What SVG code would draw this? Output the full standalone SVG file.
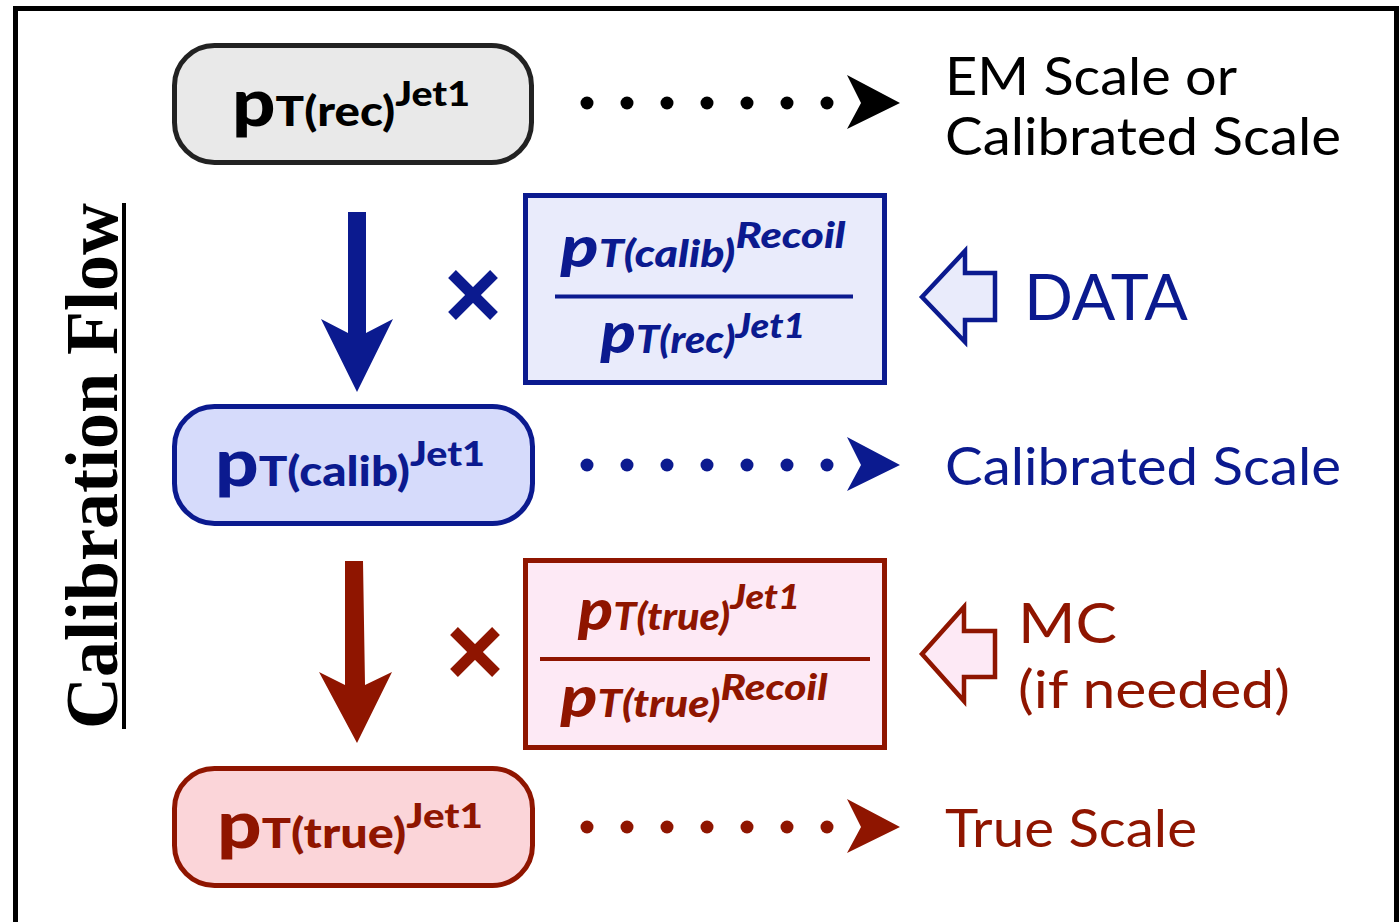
<svg xmlns="http://www.w3.org/2000/svg" width="1399" height="922" viewBox="0 0 1399 922">
<style>
.sans{font-family:Lato,"Open Sans","Liberation Sans",sans-serif}
.nt{font-family:Lato,"Open Sans","Liberation Sans",sans-serif;font-weight:900}
.ft{font-family:Lato,"Open Sans","Liberation Sans",sans-serif;font-weight:900;font-style:italic}
.lbl{font-family:Lato,"Open Sans","Liberation Sans",sans-serif;font-size:53px}
.blue{fill:#0b1a8f}
.red{fill:#8f1500}
.blk{fill:#000}
</style>
<defs>
<g id="dots">
<circle cx="587" cy="0" r="6.5"/><circle cx="627" cy="0" r="6.5"/><circle cx="667" cy="0" r="6.5"/><circle cx="707" cy="0" r="6.5"/><circle cx="747" cy="0" r="6.5"/><circle cx="787" cy="0" r="6.5"/><circle cx="827" cy="0" r="6.5"/>
<polygon points="847,-28 900,0 847,26 861,0"/>
</g>
</defs>
<rect x="0" y="0" width="1399" height="922" fill="#fff"/>
<rect x="15.5" y="8.5" width="1381" height="940" fill="none" stroke="#000" stroke-width="5"/>

<g id="title">
<text transform="translate(117,466) rotate(-90)" text-anchor="middle" font-family="'Liberation Serif',serif" font-weight="bold" font-size="74" textLength="526" lengthAdjust="spacingAndGlyphs">Calibration Flow</text>
<line x1="124" y1="203" x2="124" y2="729" stroke="#000" stroke-width="4"/>
</g>

<g id="node-rec">
<rect x="174.5" y="45.5" width="357" height="117" rx="40" fill="#e9e9e9" stroke="#222" stroke-width="5"/>
<text x="351" y="126" text-anchor="middle" class="nt blk" textLength="238" lengthAdjust="spacingAndGlyphs"><tspan font-size="66">p</tspan><tspan font-size="41">T(rec)</tspan><tspan font-size="34" dy="-20">Jet1</tspan></text>
</g>

<g id="node-calib">
<rect x="174.5" y="406.5" width="358" height="117" rx="40" fill="#d6dbfb" stroke="#0b1a8f" stroke-width="5"/>
<text x="350" y="486" text-anchor="middle" class="nt blue" textLength="270" lengthAdjust="spacingAndGlyphs"><tspan font-size="66">p</tspan><tspan font-size="41">T(calib)</tspan><tspan font-size="34" dy="-20">Jet1</tspan></text>
</g>

<g id="node-true">
<rect x="174.5" y="768.5" width="358" height="117" rx="40" fill="#fbd5d9" stroke="#8f1500" stroke-width="5"/>
<text x="350" y="848" text-anchor="middle" class="nt red" textLength="266" lengthAdjust="spacingAndGlyphs"><tspan font-size="66">p</tspan><tspan font-size="41">T(true)</tspan><tspan font-size="34" dy="-20">Jet1</tspan></text>
</g>

<g id="factor-data">
<rect x="525.5" y="195.5" width="359" height="187" fill="#e9ebfb" stroke="#0b1a8f" stroke-width="5"/>
<line x1="555" y1="296.5" x2="853" y2="296.5" stroke="#0b1a8f" stroke-width="4"/>
<text x="703" y="267" text-anchor="middle" class="ft blue" textLength="285" lengthAdjust="spacingAndGlyphs"><tspan font-size="58">p</tspan><tspan font-size="37">T(calib)</tspan><tspan font-size="36" dy="-19">Recoil</tspan></text>
<text x="703" y="353" text-anchor="middle" class="ft blue" textLength="205" lengthAdjust="spacingAndGlyphs"><tspan font-size="58">p</tspan><tspan font-size="37">T(rec)</tspan><tspan font-size="34" dy="-15">Jet1</tspan></text>
</g>

<g id="factor-mc">
<rect x="525.5" y="560.5" width="359" height="187" fill="#fde9f5" stroke="#8f1500" stroke-width="5"/>
<line x1="540" y1="659" x2="870" y2="659" stroke="#8f1500" stroke-width="4"/>
<text x="689" y="630" text-anchor="middle" class="ft red" textLength="222" lengthAdjust="spacingAndGlyphs"><tspan font-size="58">p</tspan><tspan font-size="37">T(true)</tspan><tspan font-size="34" dy="-21">Jet1</tspan></text>
<text x="694" y="717" text-anchor="middle" class="ft red" textLength="267" lengthAdjust="spacingAndGlyphs"><tspan font-size="58">p</tspan><tspan font-size="37">T(true)</tspan><tspan font-size="36" dy="-17">Recoil</tspan></text>
</g>

<g id="src-data">
<polygon points="922,297 965,251 965,273 995,273 995,320 965,320 965,342" fill="#e9ebfb" stroke="#0b1a8f" stroke-width="4.5" stroke-linejoin="miter"/>
<text x="1024" y="320" class="sans blue" font-size="64" textLength="164" lengthAdjust="spacingAndGlyphs">DATA</text>
</g>

<g id="src-mc">
<polygon points="922,654 964,607 964,631 995,631 995,677 964,677 964,701" fill="#fde9f5" stroke="#8f1500" stroke-width="4.5" stroke-linejoin="miter"/>
<text x="1018" y="643" class="sans red" font-size="57" textLength="99" lengthAdjust="spacingAndGlyphs">MC</text>
<text x="1018" y="708" class="sans red" font-size="53" textLength="272" lengthAdjust="spacingAndGlyphs">(if needed)</text>
</g>

<g id="scale-labels">
<text x="945" y="95" class="lbl blk" textLength="292" lengthAdjust="spacingAndGlyphs">EM Scale or</text>
<text x="945" y="155" class="lbl blk" textLength="396" lengthAdjust="spacingAndGlyphs">Calibrated Scale</text>
<text x="945" y="485" class="lbl blue" textLength="396" lengthAdjust="spacingAndGlyphs">Calibrated Scale</text>
<text x="945" y="847" class="lbl red" textLength="252" lengthAdjust="spacingAndGlyphs">True Scale</text>
</g>

<g id="connectors">
<use href="#dots" transform="translate(0,103)" fill="#000"/>
<use href="#dots" transform="translate(0,465)" fill="#0b1a8f"/>
<use href="#dots" transform="translate(0,827)" fill="#8f1500"/>
<polygon points="348,212 366,212 366,333 393,319 357,392 321,319 348,333" fill="#0b1a8f"/>
<polygon points="345,561 363,561 365,685 392,672 357,743 319,672 345,685" fill="#8f1500"/>
<g stroke="#0b1a8f" stroke-width="11">
<line x1="452" y1="274" x2="494" y2="316"/><line x1="494" y1="274" x2="452" y2="316"/>
</g>
<g stroke="#8f1500" stroke-width="11">
<line x1="454" y1="631" x2="496" y2="673"/><line x1="496" y1="631" x2="454" y2="673"/>
</g>
</g>
</svg>
